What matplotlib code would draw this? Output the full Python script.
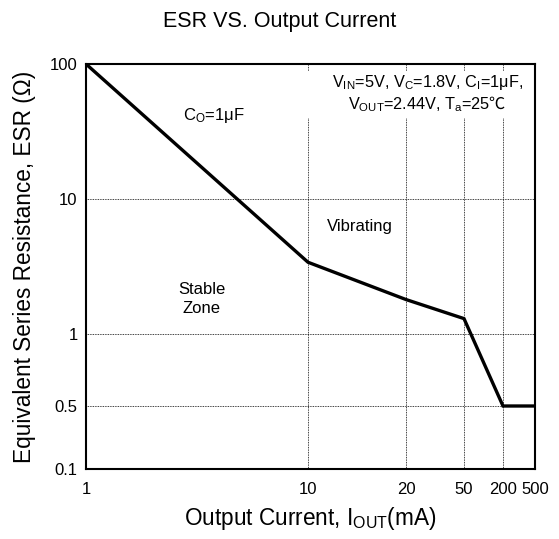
import numpy as np
import matplotlib
matplotlib.use("Agg")
import matplotlib.pyplot as plt
from matplotlib.patches import Rectangle

plt.rcParams["font.family"] = ["Liberation Sans", "DejaVu Sans"]
plt.rcParams["mathtext.fontset"] = "custom"
plt.rcParams["mathtext.rm"] = "Liberation Sans"
plt.rcParams["mathtext.it"] = "Liberation Sans"
plt.rcParams["mathtext.sf"] = "Noto Sans CJK JP"   # only for the ℃ sign

# data
current_ma = [1, 10, 20, 50, 200, 500]
esr_ohm = [100, 3.4, 1.8, 1.3, 0.5, 0.5]

x_ticks = [1, 10, 20, 50, 200, 500]
y_ticks = [0.1, 0.5, 1, 10, 100]

# the datasheet axes are spaced by hand, not true log decades
x_slots = [0, 222, 320, 378, 417, 449]
y_slots = [0, 63, 135, 270, 405]


def piecewise(ticks, slots):
    lt = np.log10(ticks)

    def fwd(v):
        return np.interp(np.log10(np.clip(v, 1e-9, None)), lt, slots)

    def inv(p):
        return 10 ** np.interp(p, slots, lt)

    return fwd, inv


fig = plt.figure(figsize=(5.59, 5.39), dpi=100)
ax = fig.add_axes([86 / 559, 70 / 539, 449 / 559, 405 / 539])

ax.set_xscale("function", functions=piecewise(x_ticks, x_slots))
ax.set_yscale("function", functions=piecewise(y_ticks, y_slots))
ax.set_xlim(x_ticks[0], x_ticks[-1])
ax.set_ylim(y_ticks[0], y_ticks[-1])

ax.set_xticks(x_ticks)
ax.set_xticklabels([str(t) for t in x_ticks])
ax.set_yticks(y_ticks)
ax.set_yticklabels([f"{t:g}" for t in y_ticks])
ax.tick_params(length=0, labelsize=12)
ax.tick_params(axis="x", pad=9)
ax.tick_params(axis="y", pad=6)
ax.minorticks_off()

for v in y_ticks[1:-1]:
    ax.axhline(v, color="black", lw=0.6, ls=(0, (1, 1)), zorder=1)
for v in x_ticks[1:-1]:
    ax.axvline(v, color="black", lw=0.6, ls=(0, (1, 1)), zorder=1)

# white patch behind the test-condition note hides the grid there
ax.add_patch(Rectangle((0.477, 0.867), 0.519, 0.115, transform=ax.transAxes,
                       facecolor="white", edgecolor="none", zorder=2))

ax.plot(current_ma, esr_ohm, color="black", lw=2.4, solid_joinstyle="miter", zorder=3)

for s in ax.spines.values():
    s.set_linewidth(1.5)
    s.set_zorder(5)

ax.text(0.285, 0.874, r"C$_\mathregular{O}$=1μF", transform=ax.transAxes,
        ha="center", va="center", fontsize=12)
ax.text(0.61, 0.598, "Vibrating", transform=ax.transAxes,
        ha="center", va="center", fontsize=12)
ax.text(0.258, 0.42, "Stable\nZone", transform=ax.transAxes,
        ha="center", va="center", fontsize=12, linespacing=1.4)
ax.text(0.76, 0.927,
        "V$_\\mathregular{IN}$=5V, V$_\\mathregular{C}$=1.8V, C$_\\mathregular{I}$=1μF,\n"
        "V$_\\mathregular{OUT}$=2.44V, T$_\\mathregular{a}$=25$\\mathsf{℃}$",
        transform=ax.transAxes, ha="center", va="center", fontsize=11.7,
        linespacing=1.2, zorder=4)

fig.text(0.5, 1 - 22 / 539, "ESR VS. Output Current", ha="center", va="center", fontsize=15.5)
ax.set_xlabel("Output Current, I$_\\mathregular{OUT}$(mA)", fontsize=16.3, labelpad=6)
ax.set_ylabel("Equivalent Series Resistance, ESR (Ω)", fontsize=16.3, labelpad=10)

fig.savefig("out.png", dpi=100)
